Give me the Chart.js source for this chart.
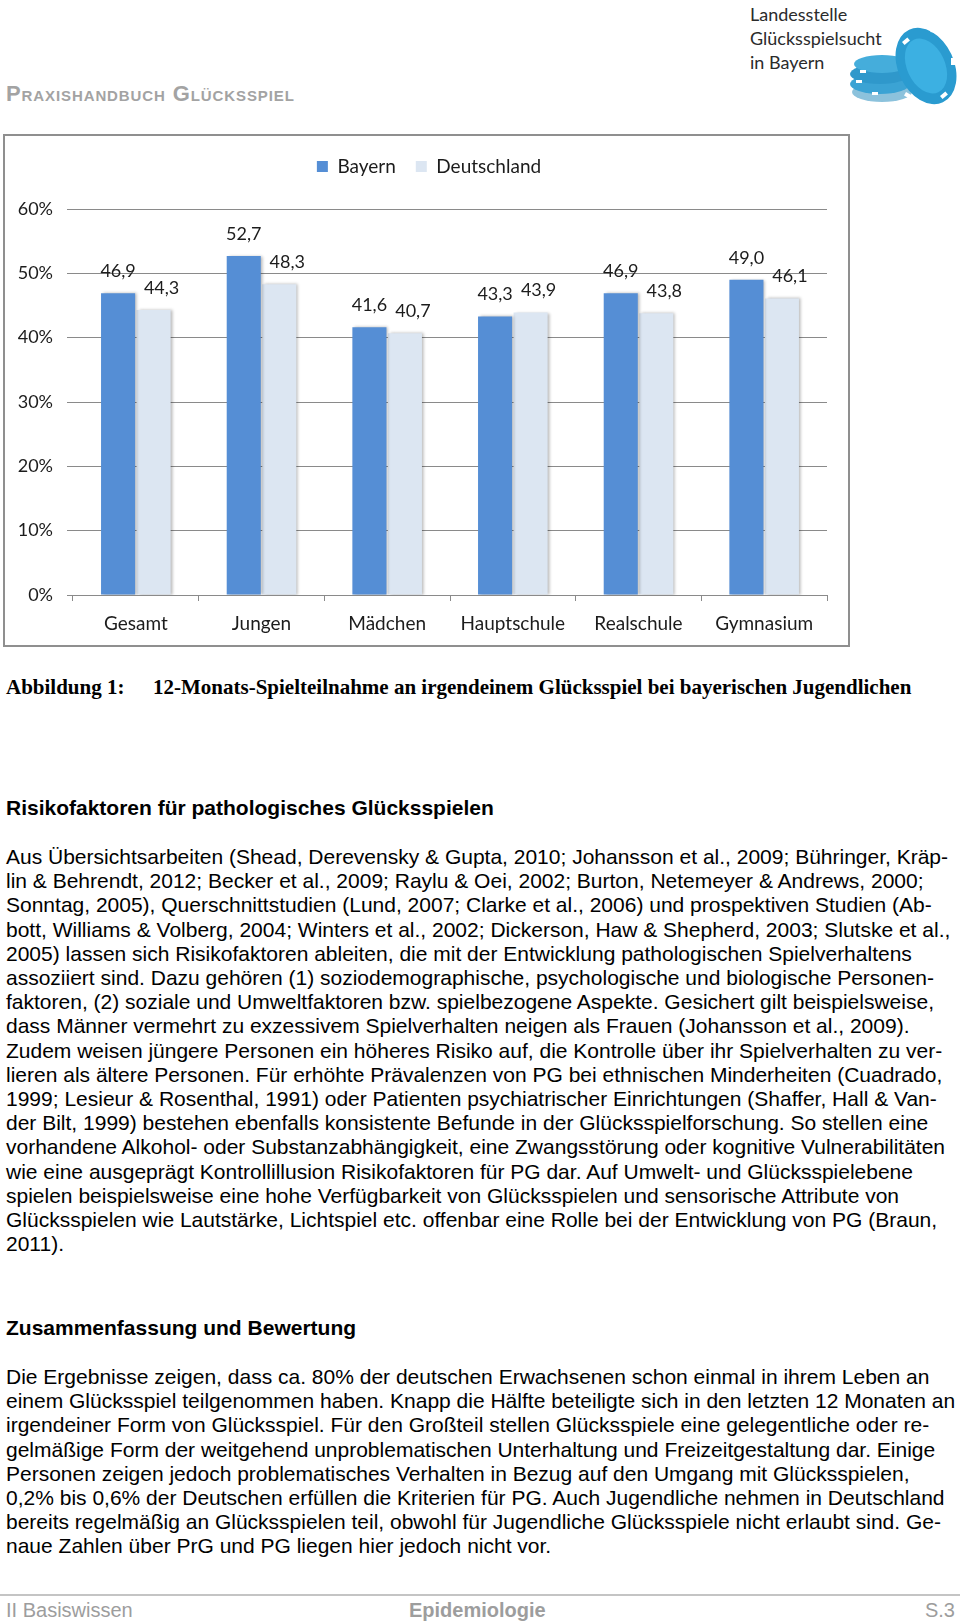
<!DOCTYPE html>
<html lang="de">
<head>
<meta charset="utf-8">
<title>12-Monats-Spielteilnahme an irgendeinem Glücksspiel</title>
<script src="https://cdn.jsdelivr.net/npm/chart.js@4.4.1/dist/chart.umd.min.js"></script>
<style>
    html, body { margin: 0; padding: 0; background: #fff; }
    body {
        width: 960px; height: 1621px; position: relative; overflow: hidden;
        font-family: "Liberation Sans", Arial, sans-serif; color: #000;
    }
    .abs { position: absolute; white-space: nowrap; }

    /* Kopfzeile */
    .kopf { left: 6px; top: 81px; font-size: 22px; line-height: 26px; letter-spacing: 0.9px; font-weight: bold; color: #a3a3a3; font-variant: small-caps; }
    .logo-text { left: 750px; top: 2px; font-family: Lato, sans-serif; font-size: 18px; line-height: 24px; color: #2b2b2b; }

    /* Diagramm */
    .chart-box {
        position: absolute; left: 3px; top: 134px; width: 847px; height: 513px;
        box-sizing: border-box; border: 2px solid #8f8f8f; background: #fff;
    }
    .chart-wrap { position: absolute; left: 0; top: 0; width: 843px; height: 509px; }

    .caption { top: 675px; font-family: "Liberation Serif", "Times New Roman", serif; font-weight: bold; font-size: 21px; line-height: 24px; }

    h2 { margin: 0; font-size: 21px; font-weight: bold; line-height: 24px; }
    .text { left: 6px; font-size: 21px; line-height: 24.2px; }
    .text div { white-space: nowrap; }

    /* Fusszeile */
    .fuss-linie { position: absolute; left: 0; top: 1594px; width: 960px; height: 2px; background: #c4c4c4; }
    .fuss { top: 1598px; font-size: 20px; line-height: 24px; color: #9d9d9d; }
</style>
</head>
<body>

<div class="abs kopf">Praxishandbuch Glücksspiel</div>

<div class="abs logo-text">Landesstelle<br>Glücksspielsucht<br>in Bayern</div>
<svg class="abs" style="left:836px; top:22px;" width="124" height="88" viewBox="0 0 124 88">
    <ellipse cx="46" cy="70" rx="30" ry="10" fill="#2e8fc0" opacity="0.55"/>
    <ellipse cx="44" cy="62" rx="30" ry="10" fill="#3ba3d4"/>
    <ellipse cx="44" cy="52" rx="30" ry="10" fill="#2f98cb"/>
    <ellipse cx="46" cy="42" rx="28" ry="9" fill="#45addb"/>
    <ellipse cx="90" cy="44" rx="28" ry="40" transform="rotate(-25 90 44)" fill="#2a9bd0"/>
    <ellipse cx="90" cy="44" rx="19" ry="29" transform="rotate(-25 90 44)" fill="#3cb0e2"/>
    <g fill="#fff">
        <rect x="66" y="20" width="7" height="4" transform="rotate(-40 66 20)"/>
        <rect x="95" y="6" width="7" height="4" transform="rotate(10 95 6)"/>
        <rect x="115" y="36" width="4" height="7"/>
        <rect x="104" y="74" width="7" height="4" transform="rotate(-40 104 74)"/>
        <rect x="70" y="70" width="6" height="4" transform="rotate(30 70 70)"/>
        <rect x="20" y="58" width="6" height="3"/>
        <rect x="36" y="70" width="6" height="3"/>
        <rect x="24" y="48" width="6" height="3"/>
    </g>
</svg>

<div class="chart-box">
    <div class="chart-wrap"><canvas id="chartTeilnahme"></canvas></div>
</div>

<div class="abs caption" style="left:6px;">Abbildung 1:</div>
<div class="abs caption" style="left:153px;">12-Monats-Spielteilnahme an irgendeinem Glücksspiel bei bayerischen Jugendlichen</div>

<h2 class="abs" style="left:6px; top:796px;">Risikofaktoren für pathologisches Glücksspielen</h2>

<div class="abs text" style="top:845px;">
    <div>Aus Übersichtsarbeiten (Shead, Derevensky &amp; Gupta, 2010; Johansson et al., 2009; Bühringer, Kräp-</div>
    <div>lin &amp; Behrendt, 2012; Becker et al., 2009; Raylu &amp; Oei, 2002; Burton, Netemeyer &amp; Andrews, 2000;</div>
    <div>Sonntag, 2005), Querschnittstudien (Lund, 2007; Clarke et al., 2006) und prospektiven Studien (Ab-</div>
    <div>bott, Williams &amp; Volberg, 2004; Winters et al., 2002; Dickerson, Haw &amp; Shepherd, 2003; Slutske et al.,</div>
    <div>2005) lassen sich Risikofaktoren ableiten, die mit der Entwicklung pathologischen Spielverhaltens</div>
    <div>assoziiert sind. Dazu gehören (1) soziodemographische, psychologische und biologische Personen-</div>
    <div>faktoren, (2) soziale und Umweltfaktoren bzw. spielbezogene Aspekte. Gesichert gilt beispielsweise,</div>
    <div>dass Männer vermehrt zu exzessivem Spielverhalten neigen als Frauen (Johansson et al., 2009).</div>
    <div>Zudem weisen jüngere Personen ein höheres Risiko auf, die Kontrolle über ihr Spielverhalten zu ver-</div>
    <div>lieren als ältere Personen. Für erhöhte Prävalenzen von PG bei ethnischen Minderheiten (Cuadrado,</div>
    <div>1999; Lesieur &amp; Rosenthal, 1991) oder Patienten psychiatrischer Einrichtungen (Shaffer, Hall &amp; Van-</div>
    <div>der Bilt, 1999) bestehen ebenfalls konsistente Befunde in der Glücksspielforschung. So stellen eine</div>
    <div>vorhandene Alkohol- oder Substanzabhängigkeit, eine Zwangsstörung oder kognitive Vulnerabilitäten</div>
    <div>wie eine ausgeprägt Kontrollillusion Risikofaktoren für PG dar. Auf Umwelt- und Glücksspielebene</div>
    <div>spielen beispielsweise eine hohe Verfügbarkeit von Glücksspielen und sensorische Attribute von</div>
    <div>Glücksspielen wie Lautstärke, Lichtspiel etc. offenbar eine Rolle bei der Entwicklung von PG (Braun,</div>
    <div>2011).</div>
</div>

<h2 class="abs" style="left:6px; top:1316px;">Zusammenfassung und Bewertung</h2>

<div class="abs text" style="top:1365px;">
    <div>Die Ergebnisse zeigen, dass ca. 80% der deutschen Erwachsenen schon einmal in ihrem Leben an</div>
    <div>einem Glücksspiel teilgenommen haben. Knapp die Hälfte beteiligte sich in den letzten 12 Monaten an</div>
    <div>irgendeiner Form von Glücksspiel. Für den Großteil stellen Glücksspiele eine gelegentliche oder re-</div>
    <div>gelmäßige Form der weitgehend unproblematischen Unterhaltung und Freizeitgestaltung dar. Einige</div>
    <div>Personen zeigen jedoch problematisches Verhalten in Bezug auf den Umgang mit Glücksspielen,</div>
    <div>0,2% bis 0,6% der Deutschen erfüllen die Kriterien für PG. Auch Jugendliche nehmen in Deutschland</div>
    <div>bereits regelmäßig an Glücksspielen teil, obwohl für Jugendliche Glücksspiele nicht erlaubt sind. Ge-</div>
    <div>naue Zahlen über PrG und PG liegen hier jedoch nicht vor.</div>
</div>

<div class="fuss-linie"></div>
<div class="abs fuss" style="left:6px;">II Basiswissen</div>
<div class="abs fuss" style="left:409px; font-weight:bold;">Epidemiologie</div>
<div class="abs fuss" style="right:5px;">S.3</div>

<script>
// ===========================
// DATEN
// ===========================
const categories = ['Gesamt', 'Jungen', 'Mädchen', 'Hauptschule', 'Realschule', 'Gymnasium'];
const seriesNames = ['Bayern', 'Deutschland'];
const bayern = [46.9, 52.7, 41.6, 43.3, 46.9, 49.0];
const deutschland = [44.3, 48.3, 40.7, 43.9, 43.8, 46.1];
const yTicks = [0, 10, 20, 30, 40, 50, 60];

const FONT = 'Lato, "Open Sans", sans-serif';
const TEXT_COLOR = '#1c1c1c';
const GRID_COLOR = '#8a8a8a';

// ===========================
// PLUGINS
// ===========================

// Abstand zwischen Legende und Diagrammfläche vergrößern,
// Legende etwas nach rechts schieben (wie im Original)
const legendGap = {
    id: 'legendGap',
    beforeInit(chart) {
        const legend = chart.legend;
        if (!legend) return;
        const originalFit = legend.fit;
        legend.fit = function () {
            originalFit.call(this);
            this.height = 72;
        };
    },
    afterLayout(chart) {
        if (!chart.legend) return;
        chart.legend.left += 13;
        chart.legend.right += 13;
    }
};

// leichter Schatten rechts neben den Balken
const barShadow = {
    id: 'barShadow',
    beforeDatasetsDraw(chart) {
        const ctx = chart.ctx;
        ctx.save();
        ctx.shadowColor = 'rgba(0, 0, 0, 0.28)';
        ctx.shadowBlur = 3;
        ctx.shadowOffsetX = 2;
        ctx.shadowOffsetY = 0;
    },
    afterDatasetsDraw(chart) {
        chart.ctx.restore();
    }
};

// Werte über den Balken (mit Dezimalkomma)
const valueLabels = {
    id: 'valueLabels',
    afterDatasetsDraw(chart) {
        const ctx = chart.ctx;
        const shiftX = [0, 8];
        ctx.save();
        ctx.font = '18px ' + FONT;
        ctx.fillStyle = TEXT_COLOR;
        ctx.textAlign = 'center';
        ctx.textBaseline = 'middle';
        chart.data.datasets.forEach((ds, i) => {
            const meta = chart.getDatasetMeta(i);
            meta.data.forEach((bar, j) => {
                const text = ds.data[j].toFixed(1).replace('.', ',');
                ctx.fillText(text, bar.x + shiftX[i], bar.y - 22);
            });
        });
        ctx.restore();
    }
};

// ===========================
// DIAGRAMM
// ===========================
const ctx = document.getElementById('chartTeilnahme');

new Chart(ctx, {
    type: 'bar',
    data: {
        labels: categories,
        datasets: [{
            label: seriesNames[0],
            data: bayern,
            backgroundColor: '#558ed5',
            borderWidth: 0
        }, {
            label: seriesNames[1],
            data: deutschland,
            backgroundColor: '#dce6f2',
            borderWidth: 0
        }]
    },
    options: {
        responsive: true,
        maintainAspectRatio: false,
        animation: false,
        devicePixelRatio: 1,
        categoryPercentage: 0.565,
        barPercentage: 0.96,
        layout: {
            padding: { top: 1, right: 21, bottom: 0, left: 0 }
        },
        plugins: {
            legend: {
                position: 'top',
                labels: {
                    color: TEXT_COLOR,
                    font: { family: FONT, size: 19 },
                    boxWidth: 11,
                    boxHeight: 11,
                    padding: 20
                }
            },
            tooltip: { enabled: false }
        },
        scales: {
            x: {
                grid: {
                    offset: true,
                    drawOnChartArea: false,
                    drawTicks: true,
                    tickLength: 6,
                    color: GRID_COLOR
                },
                border: { display: true, color: GRID_COLOR, width: 1 },
                ticks: {
                    color: TEXT_COLOR,
                    font: { family: FONT, size: 19 },
                    padding: 11,
                    maxRotation: 0,
                    autoSkip: false
                },
                afterFit(scale) {
                    scale.height = 50;
                }
            },
            y: {
                min: yTicks[0],
                max: yTicks[yTicks.length - 1],
                ticks: {
                    stepSize: yTicks[1] - yTicks[0],
                    color: TEXT_COLOR,
                    font: { family: FONT, size: 18 },
                    padding: 14,
                    callback: (value) => value + '%'
                },
                grid: {
                    color: GRID_COLOR,
                    tickLength: 6,
                    drawTicks: true
                },
                border: { display: false },
                afterFit(scale) {
                    scale.width = 68;
                }
            }
        }
    },
    plugins: [legendGap, barShadow, valueLabels]
});
</script>
</body>
</html>
